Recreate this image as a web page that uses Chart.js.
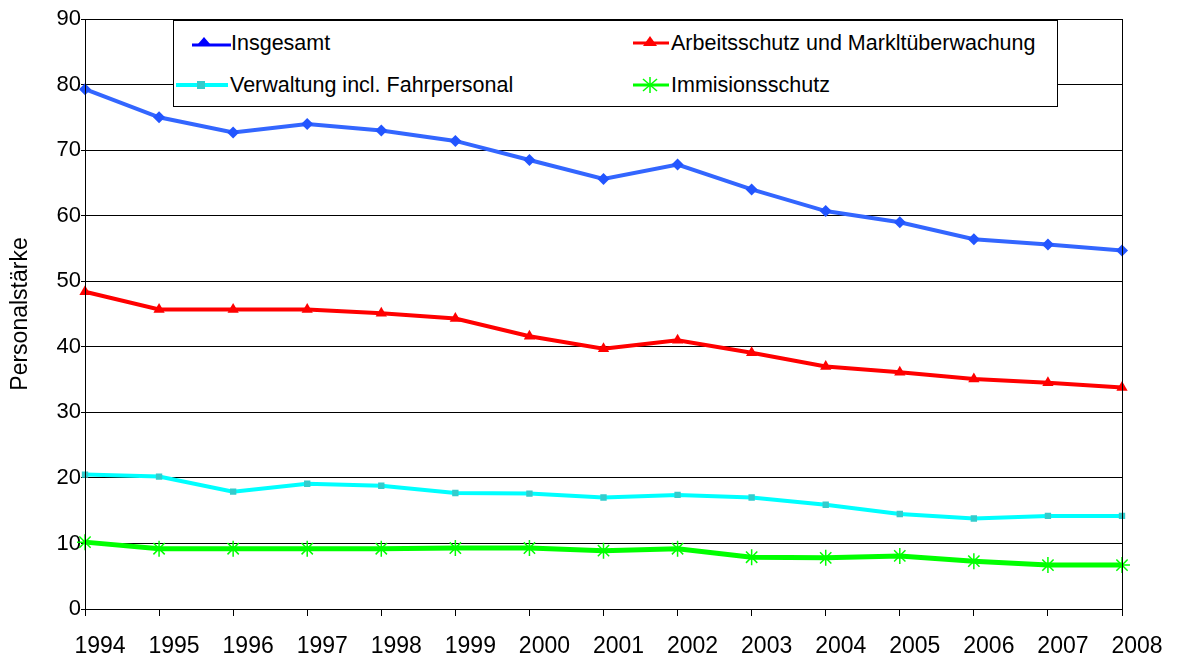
<!DOCTYPE html>
<html><head><meta charset="utf-8">
<script src="https://cdn.jsdelivr.net/npm/chart.js@4/dist/chart.umd.min.js"></script>
<style>
html,body{margin:0;padding:0;background:#fff;}
#wrap{position:relative;width:1177px;height:657px;}
#legend{position:absolute;left:173px;top:20px;width:885px;height:87px;background:#fff;border:1px solid #000;box-sizing:border-box;font-family:"Liberation Sans",Arial,sans-serif;font-size:21.5px;color:#000;}
.item{position:absolute;display:flex;align-items:center;height:24px;}
.item svg{display:block;}
</style></head>
<body><div id="wrap"><canvas id="c" width="1177" height="657"></canvas>
<div id="legend">
 <div class="item" style="left:18px;top:10px"><svg width="39" height="20"><line x1="0" y1="12" x2="39" y2="12" stroke="#0000FF" stroke-width="3"/><polygon points="12,4 18,11 6,11" fill="#0000FF"/></svg><span>Insgesamt</span></div>
 <div class="item" style="left:459px;top:10px"><svg width="38" height="20"><line x1="0" y1="10" x2="36" y2="10" stroke="#FF0000" stroke-width="3"/><polygon points="17,3 24,13 10,13" fill="#FF0000"/></svg><span>Arbeitsschutz und Markltüberwachung</span></div>
 <div class="item" style="left:0px;top:52px"><svg width="56" height="20"><line x1="2" y1="10" x2="54" y2="10" stroke="#00FFFF" stroke-width="4"/><rect x="23" y="6" width="8" height="8" fill="#33CCCC"/></svg><span>Verwaltung incl. Fahrpersonal</span></div>
 <div class="item" style="left:459px;top:52px"><svg width="38" height="20"><line x1="0" y1="10" x2="36" y2="10" stroke="#00FF00" stroke-width="3"/><g stroke="#00FF00" stroke-width="1.5"><line x1="17" y1="2" x2="17" y2="18"/><line x1="10" y1="4" x2="24" y2="16"/><line x1="24" y1="4" x2="10" y2="16"/></g></svg><span>Immisionsschutz</span></div>
</div></div>
<script>
const years = ['1994','1995','1996','1997','1998','1999','2000','2001','2002','2003','2004','2005','2006','2007','2008'];
const insgesamt = [79.3,75.0,72.7,74.0,73.0,71.4,68.5,65.6,67.8,64.0,60.7,59.0,56.4,55.6,54.7];
const arbeitsschutz = [48.4,45.7,45.7,45.7,45.1,44.3,41.6,39.7,41.0,39.1,37.0,36.1,35.1,34.5,33.8];
const verwaltung = [20.5,20.2,17.9,19.1,18.8,17.7,17.6,17.0,17.4,17.0,15.9,14.5,13.8,14.2,14.2];
const immission = [10.2,9.2,9.2,9.2,9.2,9.3,9.3,8.9,9.2,7.9,7.8,8.1,7.3,6.7,6.7];
const yTicks = [0,10,20,30,40,50,60,70,80,90];

const FONT = '"Liberation Sans", Arial, sans-serif';
const borderPlugin = {
  id:'borderPlugin',
  afterDatasetsDraw(chart){
    const a = chart.chartArea, ctx = chart.ctx;
    ctx.save(); ctx.strokeStyle='#000'; ctx.lineWidth=1;
    ctx.strokeRect(Math.round(a.left)+0.5, Math.round(a.top)+0.5, Math.round(a.right-a.left), Math.round(a.bottom-a.top));
    ctx.restore();
  }
};
new Chart(document.getElementById('c'), {
  type:'line',
  data:{labels:years, datasets:[
    {label:'Immisionsschutz', data:immission, borderColor:'#00FF00', backgroundColor:'#00FF00', borderWidth:5, pointStyle:'star', pointRadius:8, pointBorderWidth:1.5, pointBorderColor:'#00FF00', tension:0, order:4},
    {label:'Verwaltung incl. Fahrpersonal', data:verwaltung, borderColor:'#00FFFF', backgroundColor:'#33CCCC', borderWidth:4, pointStyle:'rect', pointRadius:4.5, pointBorderWidth:0, pointBackgroundColor:'#33CCCC', tension:0, order:3},
    {label:'Arbeitsschutz und Markltüberwachung', data:arbeitsschutz, borderColor:'#FF0000', backgroundColor:'#FF0000', borderWidth:4, pointStyle:'triangle', pointRadius:6.5, pointBorderWidth:0, pointBackgroundColor:'#FF0000', tension:0, order:2},
    {label:'Insgesamt', data:insgesamt, borderColor:'#3366FF', backgroundColor:'#1E4BFF', borderWidth:4, pointStyle:'rectRot', pointRadius:6, pointBorderWidth:0, pointBackgroundColor:'#2255FF', tension:0, order:1}
  ]},
  options:{
    responsive:false, animation:false, devicePixelRatio:1,
    layout:{padding:{left:0, right:55, top:19, bottom:0}},
    plugins:{legend:{display:false}, tooltip:{enabled:false}},
    scales:{
      x:{type:'category', offset:false,
        border:{display:true, color:'#000', width:1},
        grid:{drawOnChartArea:false, drawTicks:true, tickLength:7, color:'#000'},
        ticks:{color:'#000', font:{family:FONT, size:23}, padding:17, labelOffset:15, maxRotation:0, autoSkip:false},
        afterFit(s){ s.height = 48; }
      },
      y:{min:0, max:90,
        afterBuildTicks(s){ s.ticks = yTicks.map(v=>({value:v})); },
        border:{display:true, color:'#000', width:1},
        grid:{color:'#000', lineWidth:1, drawTicks:true, tickLength:4},
        ticks:{color:'#000', font:{family:FONT, size:22}, padding:0},
        title:{display:true, text:'Personalstärke', color:'#000', font:{family:FONT, size:23}, padding:{top:7,bottom:0}},
        afterFit(s){ s.width = 85; }
      }
    }
  },
  plugins:[borderPlugin]
});
</script></body></html>
